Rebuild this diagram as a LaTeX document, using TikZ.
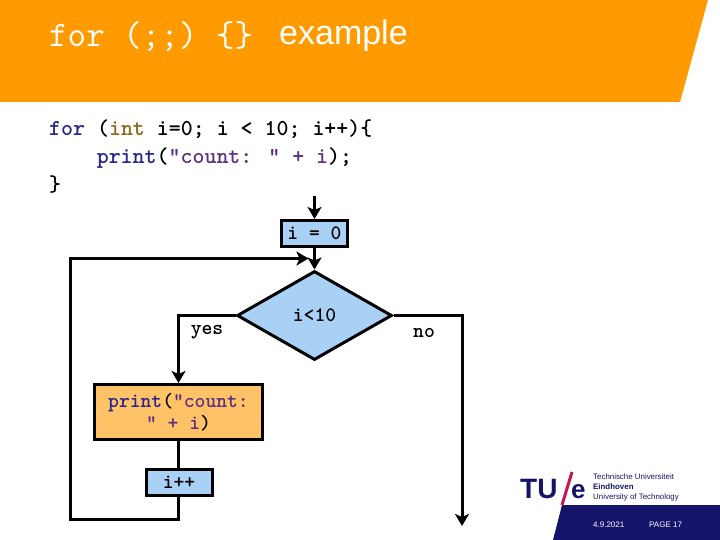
\documentclass[tikz,border=0pt]{standalone}
\usepackage{fontspec}
\setmainfont{Liberation Sans}
\usetikzlibrary{shapes.geometric, arrows.meta, positioning}
\definecolor{titleorange}{HTML}{ff9a00}
\definecolor{boxblue}{HTML}{a9d1f5}
\definecolor{boxorange}{HTML}{ffc266}
\definecolor{keyblue}{HTML}{26268f}
\definecolor{typegold}{HTML}{8a6a1f}
\definecolor{stringpurple}{HTML}{5c2f80}
\definecolor{tuenavy}{HTML}{14146b}
\definecolor{tuered}{HTML}{c8174f}
\tikzset{
	stepbox/.style={draw=black, line width=3pt, fill=boxblue, font=\ttfamily\bfseries\fontsize{20.6}{21}\selectfont,
		minimum width=66pt, minimum height=26pt, inner sep=0pt},
	flow/.style={draw=black, line width=3pt},
	flowarrow/.style={flow, -{Stealth[length=12pt,width=14pt,inset=3pt]}},
	flowlabel/.style={font=\ttfamily\bfseries\fontsize{20.6}{22}\selectfont, inner sep=0pt}
}

\begin{document}
\begin{tikzpicture}[x=1pt, y=-1pt]
	\useasboundingbox (0,0) rectangle (720,540);
	% header and footer bands
	\fill[titleorange] (0,0) -- (708,0) -- (680,102) -- (0,102) -- cycle;
	\fill[tuenavy] (562,505) -- (720,505) -- (720,540) -- (553,540) -- cycle;
	\node[anchor=base west, inner sep=0pt, text=white, font=\ttfamily\fontsize{36}{40}\selectfont] (titlecode) at (49,47) {for (;;) \{\}};
	\node[anchor=base west, inner sep=0pt, text=white, font=\fontsize{34}{38}\selectfont] (titleword) at (279,45) {example};

	% code listing
	\node[anchor=north west, inner sep=0pt, align=left, font=\ttfamily\bfseries\fontsize{22.8}{28}\selectfont] (listing) at (49,120) {
		\textcolor{keyblue}{for} (\textcolor{typegold}{int} i=0; i < 10; i++)\{\\
		\hspace*{47.6pt}\textcolor{keyblue}{print}(\textcolor{stringpurple}{"count: " + i});\\
		\}
	};

	% flowchart
	\coordinate (start) at (314.5,196);
	\node[stepbox] (init) at (314.5,233.5) {i = 0};
	\node[diamond, draw=black, line width=3pt, fill=boxblue, inner sep=0pt, aspect=1.74,
		minimum width=155pt, minimum height=89pt, font=\ttfamily\bfseries\fontsize{20.6}{22}\selectfont] (cond) at (314.5,315.5) {i<10};
	\node[stepbox, fill=boxorange, minimum width=168pt, minimum height=55pt, align=center,
		font=\ttfamily\bfseries\fontsize{20.6}{22}\selectfont] (body) at (178.5,412) {\textcolor{keyblue}{print}(\textcolor{stringpurple}{"count:}\\\textcolor{stringpurple}{" + i})};
	\node[stepbox] (incr) at (179,482.5) {i++};
	\node[flowlabel] (yes) at (207,332.5) {yes};
	\node[flowlabel] (no) at (424,332.5) {no};
	\coordinate (loopend) at (308.5,258.5);
	\coordinate (loopleft) at (70.5,519);
	\coordinate (noright) at (462,315.5);
	\coordinate (noend) at (462,526);

	\draw[flowarrow] (start) -- (init.north);
	\draw[flowarrow] (init.south) -- (cond.north);
	\draw[flowarrow] (cond.west) -| (body.north);
	\draw[flow] (body.south) -- (body.south |- incr.north);
	\draw[flowarrow] (incr.south -| body.south) |- (loopleft) |- (loopend);
	\draw[flowarrow] (cond.east) -- (noright) -- (noend);

	% logo and footer texts
	\node[anchor=base west, inner sep=0pt, text=tuenavy, font=\bfseries\fontsize{28}{30}\selectfont] (tu) at (520,498) {TU};
	\node[anchor=base west, inner sep=0pt, text=tuenavy, font=\bfseries\fontsize{26}{30}\selectfont] (tue) at (571,498) {e};
	\draw[tuered, line width=3pt] (572,472) -- (562,505);
	\node[anchor=north west, inner sep=0pt, align=left, text=tuenavy, font=\fontsize{7.9}{10}\selectfont] (uni) at (593,474) {Technische Universiteit\\\textbf{Eindhoven}\\University of Technology};
	\node[anchor=base west, inner sep=0pt, text=white, font=\fontsize{8}{10}\selectfont] (date) at (593,527) {4.9.2021};
	\node[anchor=base west, inner sep=0pt, text=white, font=\fontsize{8}{10}\selectfont] (page) at (649,527) {PAGE 17};
\end{tikzpicture}
\end{document}
